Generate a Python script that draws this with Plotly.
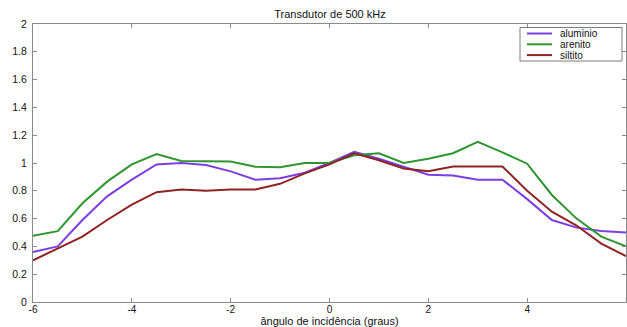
import plotly.graph_objects as go

# ---- data ----
angles = [-6, -5.5, -5, -4.5, -4, -3.5, -3, -2.5, -2, -1.5, -1, -0.5, 0,
          0.5, 1, 1.5, 2, 2.5, 3, 3.5, 4, 4.5, 5, 5.5, 6]
aluminio = [0.36, 0.40, 0.59, 0.76, 0.88, 0.99, 1.00, 0.985, 0.94, 0.88, 0.89, 0.93, 1.00,
            1.08, 1.03, 0.97, 0.915, 0.91, 0.88, 0.88, 0.74, 0.59, 0.535, 0.51, 0.50]
arenito = [0.477, 0.51, 0.71, 0.866, 0.99, 1.065, 1.014, 1.014, 1.01, 0.973, 0.97, 1.00, 1.00,
           1.055, 1.07, 1.00, 1.03, 1.07, 1.153, 1.077, 0.995, 0.77, 0.60, 0.47, 0.40]
siltito = [0.30, 0.386, 0.47, 0.59, 0.70, 0.79, 0.81, 0.80, 0.81, 0.81, 0.85, 0.925, 0.99,
           1.07, 1.02, 0.96, 0.94, 0.975, 0.975, 0.975, 0.80, 0.65, 0.55, 0.42, 0.33]

series_names = ["aluminio", "arenito", "siltito"]
series_values = [aluminio, arenito, siltito]
series_colors = ["#7b3fe0", "#2f952f", "#8f2323"]

x_ticks = [-6, -4, -2, 0, 2, 4, 6]
x_tick_labels = ["-6", "-4", "-2", "0", "2", "4", "6"]
y_ticks = [0, 0.2, 0.4, 0.6, 0.8, 1, 1.2, 1.4, 1.6, 1.8, 2]
y_tick_labels = ["0", "0.2", "0.4", "0.6", "0.8", "1", "1.2", "1.4", "1.6", "1.8", "2"]

title_text = "Transdutor de 500 kHz"
x_title = "ângulo de incidência (graus)"

FONT = "Liberation Sans, Arial, sans-serif"
AXIS_COLOR = "#8a8a8a"

fig = go.Figure()
for name, vals, col in zip(series_names, series_values, series_colors):
    fig.add_trace(go.Scatter(x=angles, y=vals, mode="lines", name=name,
                             line=dict(color=col, width=2), showlegend=False))

# ---- manual MATLAB-style legend (compact) ----
W, H = 627, 327
L, R, T, B = 33, 1, 24, 25
pw, ph = W - L - R, H - T - B

def px(x):
    return (x - L) / pw

def py(y):
    return (H - B - y) / ph

fig.add_shape(type="rect", xref="paper", yref="paper",
              x0=px(520), x1=px(622), y0=py(61), y1=py(27.5),
              line=dict(color="#7a7a7a", width=1), fillcolor="white", layer="above")
row_y = [33.5, 44.3, 55.1]
for name, col, ry in zip(series_names, series_colors, row_y):
    fig.add_shape(type="line", xref="paper", yref="paper",
                  x0=px(527), x1=px(552), y0=py(ry), y1=py(ry),
                  line=dict(color=col, width=2), layer="above")
    fig.add_annotation(text=name, xref="paper", yref="paper",
                       x=px(559), y=py(ry), xanchor="left", yanchor="middle",
                       showarrow=False, borderpad=0,
                       font=dict(family=FONT, size=10, color="#111111"))

fig.update_layout(
    width=W, height=H, autosize=False,
    margin=dict(l=L, r=R, t=T, b=B, pad=0),
    paper_bgcolor="white", plot_bgcolor="white",
    font=dict(family=FONT, size=10.5, color="#111111"),
    title=dict(text=title_text, x=(330) / W, xanchor="center", y=1 - 14 / H, yanchor="middle",
               font=dict(family=FONT, size=11, color="#111111")),
    showlegend=False,
)
fig.update_xaxes(range=[-6, 6], tickvals=x_ticks, ticktext=x_tick_labels,
                 showgrid=False, zeroline=False, showline=True, linecolor=AXIS_COLOR, linewidth=1,
                 mirror="ticks", ticks="inside", ticklen=4, tickcolor=AXIS_COLOR,
                 tickfont=dict(family=FONT, size=10, color="#111111"),
                 ticklabelstandoff=-2,
                 title=dict(text=x_title, standoff=1, font=dict(family=FONT, size=11, color="#111111")),
                 automargin=False)
fig.update_yaxes(range=[0, 2], tickvals=y_ticks, ticktext=y_tick_labels,
                 showgrid=False, zeroline=False, showline=True, linecolor=AXIS_COLOR, linewidth=1,
                 mirror="ticks", ticks="inside", ticklen=4, tickcolor=AXIS_COLOR,
                 tickfont=dict(family=FONT, size=10.5, color="#111111"),
                 ticklabelstandoff=3, automargin=False)

fig.write_html("out.html")
